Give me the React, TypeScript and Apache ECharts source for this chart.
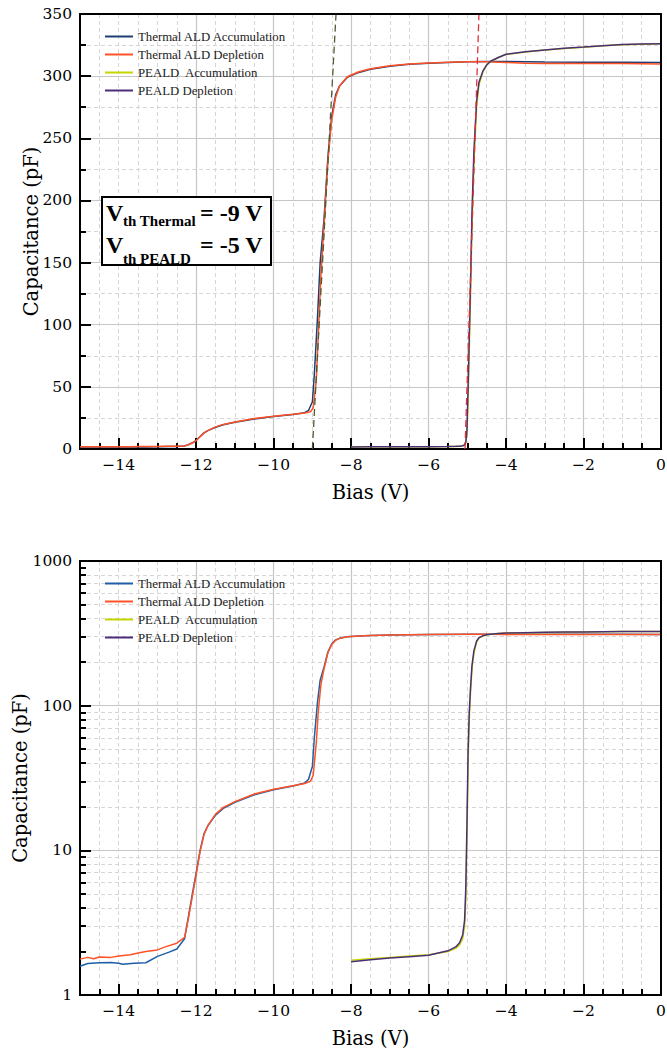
import React, { useEffect, useRef } from 'react';
import * as echarts from 'echarts';

// ---------------- data ----------------
const thermalAccBias = [-15, -14.8, -14.5, -14.2, -14.0, -13.9, -13.6, -13.3, -13.0, -12.7, -12.5, -12.3, -12.2, -12.1, -12.0, -11.9, -11.8, -11.7, -11.5, -11.3, -11.0, -10.5, -10.0, -9.5, -9.2, -9.1, -9.0, -8.95, -8.87, -8.8, -8.7, -8.6, -8.5, -8.4, -8.3, -8.1, -7.8, -7.5, -7.0, -6.5, -6.0, -5.5, -5.0, -4.5, -4.0, -3.0, -2.0, -1.0, 0];
const thermalAccCap = [1.58, 1.65, 1.67, 1.68, 1.66, 1.63, 1.66, 1.67, 1.85, 1.98, 2.08, 2.45, 3.5, 5.0, 7.0, 10.0, 13.0, 14.8, 17.5, 19.5, 21.5, 24.2, 26.2, 27.8, 29.2, 31, 38, 60, 105, 150, 185, 235, 268, 285, 292, 299, 303, 305.5, 308, 309.5, 310.3, 311, 311.5, 311.8, 311.8, 311.3, 311.2, 311.2, 311];

const thermalDepBias = [-15, -14.8, -14.65, -14.5, -14.2, -14.0, -13.7, -13.5, -13.3, -13.0, -12.8, -12.5, -12.3, -12.2, -12.1, -12.0, -11.9, -11.8, -11.7, -11.5, -11.3, -11.0, -10.5, -10.0, -9.5, -9.2, -9.05, -8.98, -8.9, -8.85, -8.78, -8.7, -8.6, -8.5, -8.4, -8.3, -8.1, -7.8, -7.5, -7.0, -6.5, -6.0, -5.5, -5.0, -4.5, -4.0, -3.5, -3.0, -2.0, -1.0, 0];
const thermalDepCap = [1.77, 1.82, 1.78, 1.83, 1.82, 1.86, 1.9, 1.95, 2.0, 2.05, 2.15, 2.28, 2.5, 3.4, 4.8, 6.8, 9.8, 12.8, 14.8, 17.8, 19.8, 21.7, 24.5, 26.4, 28.0, 29.0, 30, 33, 55, 90, 140, 180, 232, 265, 283, 292, 299.5, 303.5, 306, 308.3, 309.7, 310.5, 311.2, 311.6, 311.5, 311, 310.4, 310.2, 310.1, 310.1, 309.8];

const pealdBias = [-8, -7.5, -7, -6.5, -6, -5.5, -5.3, -5.2, -5.12, -5.07, -5.04, -5.01, -4.98, -4.95, -4.92, -4.88, -4.83, -4.76, -4.7, -4.6, -4.5, -4.4, -4.2, -4.0, -3.5, -3.0, -2.5, -2.0, -1.5, -1.0, -0.5, 0];
const pealdAccCap = [1.74, 1.78, 1.82, 1.86, 1.9, 2.0, 2.1, 2.22, 2.45, 3.0, 4.5, 12, 40, 80, 120, 180, 230, 275, 293, 303, 309, 312, 315, 317.5, 319.5, 321, 322.3, 323.3, 324.4, 325.3, 325.7, 326];
const pealdDepCap = [1.70, 1.75, 1.80, 1.84, 1.88, 2.02, 2.15, 2.3, 2.6, 3.3, 5.5, 15, 50, 90, 130, 190, 240, 280, 295, 304, 309, 312, 315, 317.6, 319.6, 321.1, 322.4, 323.4, 324.5, 325.4, 325.8, 326];

const vthThermalBias = [-9.0, -8.39];
const vthThermalCap = [0, 350];
const vthPealdBias = [-5.06, -4.7];
const vthPealdCap = [0, 350];

const xTickValues = [-14, -12, -10, -8, -6, -4, -2, 0];
const logMajorTicks = [1, 10, 100, 1000];
const logMinorTicks = [2, 3, 4, 5, 6, 7, 8, 9, 20, 30, 40, 50, 60, 70, 80, 90, 200, 300, 400, 500, 600, 700, 800, 900];
const seriesNames = ['Thermal ALD Accumulation', 'Thermal ALD Depletion', 'PEALD  Accumulation', 'PEALD Depletion'];
const topColors = ['#1b3f73', '#ff5126', '#c4d600', '#4a2f78'];
const bottomColors = ['#1f5fa5', '#ff5126', '#c4d600', '#4a2f78'];

// ---------------- helpers ----------------
const SERIF = 'Liberation Serif';
const AXIS_SERIF = 'DejaVu Serif';
const pair = (xs: number[], ys: number[]) => xs.map((x, i) => [x, ys[i]]);
const fmtX = (v: number) => (v < 0 ? '\u2212' + Math.abs(v) : String(v));

const solidGrid = { show: true, lineStyle: { color: '#c6c6c6', width: 1.2 }, showMinLine: false, showMaxLine: false };
const dashGrid = { show: true, lineStyle: { color: '#d6d6d6', width: 1, type: [4, 3] }, showMinLine: false, showMaxLine: false };
const blackLine = { show: true, onZero: false, lineStyle: { color: '#000', width: 2 } };
const tickLabel = (fmt: (v: number) => string) => ({ show: true, fontFamily: AXIS_SERIF, fontSize: 15.5, color: '#000', margin: 8, formatter: fmt });
const nameStyle = { fontFamily: AXIS_SERIF, fontSize: 19.5, color: '#000' };

function xAxesFor(grid: number) {
  return [
    {
      type: 'value', gridIndex: grid, position: 'bottom', min: -15, max: 0, interval: 0.5,
      axisLine: blackLine,
      axisTick: { show: true, inside: true, length: 6, lineStyle: { color: '#000', width: 2 } },
      axisLabel: { show: false },
      splitLine: dashGrid,
    },
    {
      type: 'value', gridIndex: grid, position: 'bottom', min: -15, max: 0, interval: 0.5,
      name: 'Bias (V)', nameLocation: 'middle', nameGap: 33, nameMoveOverlap: false,
      nameTextStyle: nameStyle,
      axisLine: blackLine,
      axisTick: { show: true, inside: true, length: 11, customValues: xTickValues, lineStyle: { color: '#000', width: 2 } },
      axisLabel: { ...tickLabel(fmtX), customValues: xTickValues },
      splitLine: solidGrid,
    },
    {
      type: 'value', gridIndex: grid, position: 'top', min: -15, max: 0, z: 5,
      axisLine: blackLine, axisTick: { show: false }, axisLabel: { show: false }, splitLine: { show: false },
    },
  ];
}

function lineSeries(name: string, data: number[][], color: string, xi: number, yi: number, z = 2) {
  return {
    type: 'line', name, data, xAxisIndex: xi, yAxisIndex: yi, showSymbol: false, symbol: 'none',
    lineStyle: { color, width: 1.5 }, itemStyle: { color }, z, silent: true,
  };
}

function legendFor(top: number, colors: string[]) {
  return {
    orient: 'vertical', left: 100, top, itemWidth: 28, itemHeight: 2, itemGap: 5, icon: 'rect',
    selectedMode: false,
    textStyle: { fontFamily: SERIF, fontSize: 12.8, color: '#222', lineHeight: 13 },
    data: seriesNames.map((n, i) => ({ name: n, itemStyle: { color: colors[i] } })),
  };
}

export default function App() {
  const ref = useRef<HTMLDivElement>(null);
  useEffect(() => {
    if (!ref.current) return;
    const chart = echarts.init(ref.current, undefined, { renderer: 'svg' });
    const option: any = {
      animation: false,
      textStyle: { fontFamily: SERIF },
      grid: [
        { left: 80, top: 14, width: 581, height: 435, show: false, containLabel: false, outerBoundsMode: 'none' },
        { left: 80, top: 561, width: 581, height: 434, show: false, containLabel: false, outerBoundsMode: 'none' },
      ],
      legend: [legendFor(25, topColors), legendFor(572, bottomColors)],
      xAxis: [...xAxesFor(0), ...xAxesFor(1)],
      yAxis: [
        {
          type: 'value', gridIndex: 0, position: 'left', min: 0, max: 350, interval: 50,
          name: 'Capacitance (pF)', nameLocation: 'middle', nameGap: 39, nameRotate: 90, nameMoveOverlap: false,
          nameTextStyle: nameStyle,
          axisLine: blackLine,
          axisTick: { show: true, inside: true, length: 11, lineStyle: { color: '#000', width: 2 } },
          minorTick: { show: true, splitNumber: 2, length: 6, lineStyle: { color: '#000', width: 2 } },
          axisLabel: tickLabel((v) => String(v)),
          splitLine: solidGrid,
          minorSplitLine: { show: true, lineStyle: { color: '#d6d6d6', width: 1, type: [4, 3] } },
        },
        {
          type: 'value', gridIndex: 0, position: 'right', min: 0, max: 350, z: 5,
          axisLine: blackLine, axisTick: { show: false }, axisLabel: { show: false }, splitLine: { show: false },
        },
        {
          type: 'log', logBase: 10, gridIndex: 1, position: 'left', min: 1, max: 1000,
          axisLine: blackLine,
          axisTick: { show: true, inside: true, length: 6, customValues: logMinorTicks, lineStyle: { color: '#000', width: 2 } },
          axisLabel: { show: false },
          splitLine: dashGrid,
        },
        {
          type: 'log', logBase: 10, gridIndex: 1, position: 'left', min: 1, max: 1000,
          name: 'Capacitance (pF)', nameLocation: 'middle', nameGap: 50, nameRotate: 90, nameMoveOverlap: false,
          nameTextStyle: nameStyle,
          axisLine: blackLine,
          axisTick: { show: true, inside: true, length: 11, customValues: logMajorTicks, lineStyle: { color: '#000', width: 2 } },
          axisLabel: { ...tickLabel((v) => String(Math.round(v))), customValues: logMajorTicks },
          splitLine: solidGrid,
        },
        {
          type: 'log', logBase: 10, gridIndex: 1, position: 'right', min: 1, max: 1000, z: 5,
          axisLine: blackLine, axisTick: { show: false }, axisLabel: { show: false }, splitLine: { show: false },
        },
      ],
      series: [
        lineSeries(seriesNames[0], pair(thermalAccBias, thermalAccCap), topColors[0], 1, 0),
        lineSeries(seriesNames[1], pair(thermalDepBias, thermalDepCap), topColors[1], 1, 0),
        lineSeries(seriesNames[2], pair(pealdBias, pealdAccCap), topColors[2], 1, 0),
        lineSeries(seriesNames[3], pair(pealdBias, pealdDepCap), topColors[3], 1, 0),
        {
          type: 'line', name: 'vthThermal', data: pair(vthThermalBias, vthThermalCap), xAxisIndex: 1, yAxisIndex: 0,
          showSymbol: false, symbol: 'none', lineStyle: { color: '#4f5a2e', width: 1.3, type: [7, 4] }, z: 3, silent: true,
        },
        {
          type: 'line', name: 'vthPeald', data: pair(vthPealdBias, vthPealdCap), xAxisIndex: 1, yAxisIndex: 0,
          showSymbol: false, symbol: 'none', lineStyle: { color: '#e0303a', width: 1.3, type: [7, 4] }, z: 3, silent: true,
        },
        lineSeries(seriesNames[0], pair(thermalAccBias, thermalAccCap), bottomColors[0], 4, 3),
        lineSeries(seriesNames[1], pair(thermalDepBias, thermalDepCap), bottomColors[1], 4, 3),
        lineSeries(seriesNames[2], pair(pealdBias, pealdAccCap), bottomColors[2], 4, 3),
        lineSeries(seriesNames[3], pair(pealdBias, pealdDepCap), bottomColors[3], 4, 3),
      ],
      graphic: [
        { type: 'rect', z: 10, shape: { x: 102, y: 197, width: 169, height: 68 }, style: { fill: '#fff', stroke: '#000', lineWidth: 2 } },
        { type: 'text', z: 11, x: 106, y: 212.5, style: { text: 'V', fontFamily: SERIF, fontWeight: 'bold', fontSize: 24, fill: '#000', verticalAlign: 'middle' } },
        { type: 'text', z: 11, x: 123, y: 221, style: { text: 'th Thermal', fontFamily: SERIF, fontWeight: 'bold', fontSize: 15, fill: '#000', verticalAlign: 'middle' } },
        { type: 'text', z: 11, x: 200, y: 212.5, style: { text: '= -9 V', fontFamily: SERIF, fontWeight: 'bold', fontSize: 24, fill: '#000', verticalAlign: 'middle' } },
        { type: 'text', z: 11, x: 106, y: 245, style: { text: 'V', fontFamily: SERIF, fontWeight: 'bold', fontSize: 24, fill: '#000', verticalAlign: 'middle' } },
        { type: 'text', z: 11, x: 123, y: 258.5, style: { text: 'th PEALD', fontFamily: SERIF, fontWeight: 'bold', fontSize: 15, fill: '#000', verticalAlign: 'middle' } },
        { type: 'text', z: 11, x: 200, y: 245, style: { text: '= -5 V', fontFamily: SERIF, fontWeight: 'bold', fontSize: 24, fill: '#000', verticalAlign: 'middle' } },
      ],
    };
    chart.setOption(option);
    return () => chart.dispose();
  }, []);
  return <div ref={ref} style={{ position: 'absolute', left: 0, top: 0, width: 667, height: 1054, background: '#fff' }} />;
}
